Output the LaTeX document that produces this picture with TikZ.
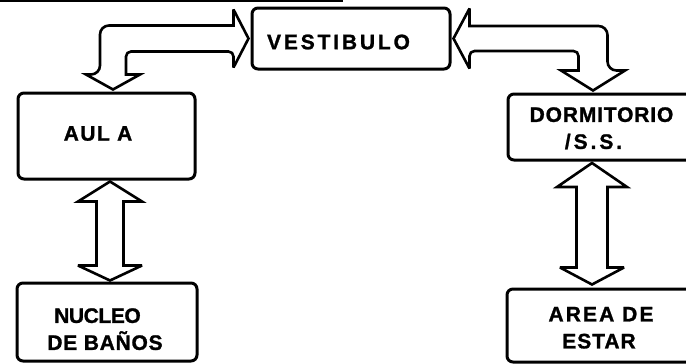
\documentclass[tikz,border=0pt]{standalone}
\usepackage{fontspec}
\setmainfont{Liberation Sans}
\newfontfamily\lblfont[FakeBold=1.2]{Liberation Sans Bold}
\usetikzlibrary{calc}
\newcommand\trk[2]{{\addfontfeatures{LetterSpace=#1}#2}}
\newcommand\dn[2]{\raisebox{-#1}[\height][\depth]{#2}}
\newcommand\twol[3]{\dn{#1}{\begin{tabular}{@{}c@{}}#2\\#3\end{tabular}}}
\begin{document}
\begin{tikzpicture}[x=1pt,y=-1pt,
  box/.style={draw, line width=3pt, rounded corners=6pt, inner sep=0pt,
    font=\lblfont\fontsize{21}{27}\selectfont, align=center},
  dblarrow/.style={draw, line width=2.6pt, fill=white, line join=miter, miter limit=4}]
\useasboundingbox (0,0) rectangle (686,364);
\clip (0,0) rectangle (686,364);
\draw[line width=2pt] (0,1) -- (343,1);
% boxes
\node[box, minimum width=198pt, minimum height=61pt] (vest) at (351,38.5)
  {\dn{3.5pt}{\hspace*{-25pt}\trk{13.5}{VESTIBULO}}};
\node[box, minimum width=177pt, minimum height=86pt] (aula) at (106.5,136)
  {\dn{-2.5pt}{\hspace*{-17pt}\trk{7}{AUL A}}};
\node[box, minimum width=180pt, minimum height=78pt] (nucleo) at (107,322)
  {\twol{9pt}{\hspace*{-19pt}\trk{-2}{NUCLEO}}{\hspace*{-4pt}\trk{3.5}{DE BAÑOS}}};
\node[box, minimum width=187pt, minimum height=66pt] (dorm) at (601.5,127)
  {\twol{3pt}{\trk{4}{DORMITORIO}}{\hspace*{-16pt}\trk{14}{/S.S.}}};
\node[box, minimum width=188pt, minimum height=73pt] (area) at (601,325.5)
  {\twol{4pt}{\trk{10}{AREA DE}}{\hspace*{-4pt}\trk{4.5}{ESTAR}}};
% tips
\coordinate (t1) at ($(vest.west)+(-2,0)$);
\coordinate (t2) at ($(aula.north)+(6.5,-2)$);
\coordinate (t3) at ($(vest.east)+(2,0)$);
\coordinate (t4) at ($(dorm.north)+(-8.5,-2)$);
\coordinate (tt3) at ($(aula.south)+(3.5,1)$);
\coordinate (tb3) at ($(tt3 |- nucleo.north)+(0,-1)$);
\coordinate (tt4) at ($(dorm.south)+(-9.5,1.5)$);
\coordinate (tb4) at ($(tt4 |- area.north)+(0,-3)$);
% VESTIBULO <-> AULA
\draw[dblarrow] (t1) -- ++(-15,-29) -- ++(0,16)
  [rounded corners=9pt] -- ($(t2|-t1)+(-13,-13)$)
  -- ($(t2)+(-13,-15)$) [sharp corners]
  -- ++(-14,0) -- (t2) -- ++(27,-15) -- ++(-14,0)
  [rounded corners=5pt] -- ($(t2|-t1)+(13,13)$)
  -- ($(t1)+(-15,13)$) [sharp corners]
  -- ++(0,16) -- cycle;
% VESTIBULO <-> DORMITORIO
\draw[dblarrow] (t3) -- ++(16,-30) -- ++(0,17.5)
  [rounded corners=9pt] -- ($(t4|-t3)+(14.5,-12.5)$)
  -- ($(t4)+(14.5,-20)$) [sharp corners]
  -- ++(17.5,0) -- (t4) -- ++(-32,-20) -- ++(17.5,0)
  [rounded corners=5pt] -- ($(t4|-t3)+(-14.5,12.5)$)
  -- ($(t3)+(16,12.5)$) [sharp corners]
  -- ++(0,17.5) -- cycle;
% AULA <-> NUCLEO
\draw[dblarrow] (tt3) -- ++(32,20) -- ++(-18.5,0) -- ($(tb3)+(13.5,-15)$)
  -- ++(18.5,0) -- (tb3) -- ++(-32,-15) -- ++(18.5,0)
  -- ($(tt3)+(-13.5,20)$) -- ++(-18.5,0) -- cycle;
% DORMITORIO <-> AREA
\draw[dblarrow] (tt4) -- ++(35,24) -- ++(-19.5,0) -- ($(tb4)+(15.5,-17)$)
  -- ++(16.5,0) -- (tb4) -- ++(-32,-17) -- ++(16.5,0)
  -- ($(tt4)+(-15.5,24)$) -- ++(-19.5,0) -- cycle;
\end{tikzpicture}
\end{document}
